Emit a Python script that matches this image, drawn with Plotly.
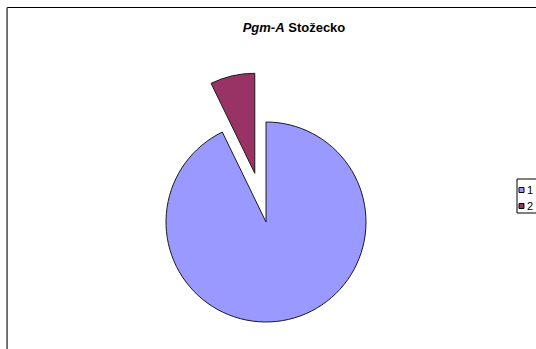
import math
import plotly.graph_objects as go

# Allele frequencies for the Pgm-A locus, Stožecko population
labels = ["1", "2"]
values = [0.928, 0.072]
colors = ["#9999FF", "#993366"]
pulled = [0.0, 0.5]          # fraction of radius each slice is pulled out

W, H = 536, 349
FONT = "Liberation Sans, Arial, sans-serif"

# pie geometry in pixels
cx, cy, r = 266.0, 222.0, 100.0


def px_x(x):
    return x / W


def px_y(y):
    return 1 - y / H


def domain_at(x, y, radius):
    return dict(x=[px_x(x - radius), px_x(x + radius)],
                y=[px_y(y + radius), px_y(y - radius)])


total = sum(values)
clear = "rgba(0,0,0,0)"
fig = go.Figure()

# one pie trace per slice so each slice can sit at its own offset
start = 0.0
for i, (lab, v) in enumerate(zip(labels, values)):
    frac = v / total
    mid = math.radians(360 * (start + frac / 2))   # clockwise from 12 o'clock
    dx = pulled[i] * r * math.sin(mid)
    dy = -pulled[i] * r * math.cos(mid)
    start += frac
    fill = [c if j == i else clear for j, c in enumerate(colors)]
    widths = [1 if j == i else 0 for j in range(len(labels))]
    fig.add_trace(go.Pie(
        labels=labels,
        values=values,
        sort=False,
        direction="clockwise",
        rotation=0,
        marker=dict(colors=fill, line=dict(color="#1a1a1a", width=widths)),
        textinfo="none",
        hoverinfo="label+percent",
        showlegend=False,
        domain=domain_at(cx + dx, cy + dy, r),
    ))

shapes = []
annotations = []

# chart frame
shapes.append(dict(type="rect", xref="paper", yref="paper",
                   x0=px_x(7), x1=1.2, y0=-0.2, y1=px_y(7.5),
                   line=dict(color="#000000", width=1), fillcolor=clear))
shapes.append(dict(type="line", xref="paper", yref="paper",
                   x0=px_x(7.5), x1=px_x(7.5), y0=-0.2, y1=px_y(7.5),
                   line=dict(color="#666666", width=1)))

# legend box with swatches
lx, ly, lh, step = 517, 179, 34, 16
shapes.append(dict(type="rect", xref="paper", yref="paper",
                   x0=px_x(lx), x1=1.2, y0=px_y(ly + lh), y1=px_y(ly),
                   line=dict(color="#000000", width=1), fillcolor="#FFFFFF"))
for k, (lab, col) in enumerate(zip(labels, colors)):
    yc = ly + 11 + k * step
    shapes.append(dict(type="rect", xref="paper", yref="paper",
                       x0=px_x(lx + 2), x1=px_x(lx + 7),
                       y0=px_y(yc + 2.5), y1=px_y(yc - 2.5),
                       line=dict(color="#000000", width=1), fillcolor=col))
    annotations.append(dict(text=lab, xref="paper", yref="paper",
                            x=px_x(lx + 8), y=px_y(yc), xanchor="left",
                            yanchor="middle", showarrow=False,
                            font=dict(family=FONT, size=11, color="#000000")))

fig.update_layout(
    width=W, height=H,
    margin=dict(l=0, r=0, t=0, b=0, autoexpand=False),
    paper_bgcolor="#FFFFFF",
    plot_bgcolor="#FFFFFF",
    title=dict(text="<b><i>Pgm-A</i> Stožecko</b>",
               x=px_x(294), y=px_y(27), xanchor="center", yanchor="middle",
               xref="paper", yref="paper",
               font=dict(family=FONT, size=13, color="#000000")),
    shapes=shapes,
    annotations=annotations,
    showlegend=False,
)

fig.write_html("out.html")
